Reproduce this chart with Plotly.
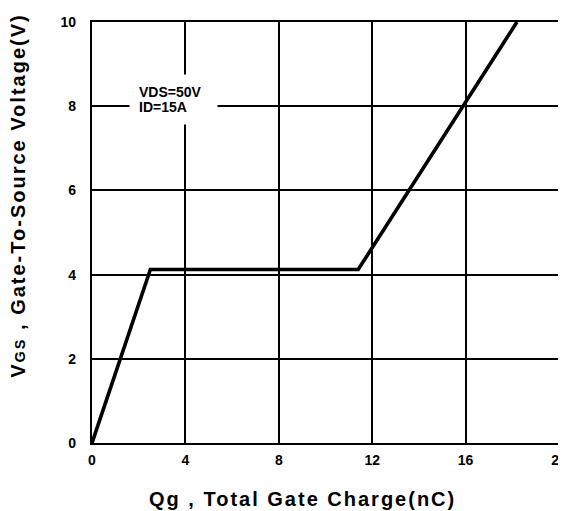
import plotly.graph_objects as go

qg = [0, 2.5, 11.4, 18.2]
vgs = [0, 4.12, 4.12, 10]
x_ticks = [0, 4, 8, 12, 16, 20]
y_ticks = [0, 2, 4, 6, 8, 10]
note_lines = ["VDS=50V", "ID=15A"]

FONT = "Liberation Sans, Arial, sans-serif"

fig = go.Figure()
fig.add_trace(go.Scatter(x=qg, y=vgs, mode="lines",
                         line=dict(color="black", width=3.6), showlegend=False))

axis_common = dict(showgrid=True, gridcolor="black", gridwidth=1.8,
                   showline=True, linecolor="black", linewidth=2.2, mirror=True,
                   zeroline=False, ticks="", automargin=False, ticklabeloverflow="allow",
                   tickfont=dict(family=FONT, size=14, color="black", weight="bold"))

fig.update_xaxes(range=[0, 20], tickvals=x_ticks, ticktext=[str(v) for v in x_ticks],
                 ticklabelstandoff=3, **axis_common)
fig.update_yaxes(range=[0, 10], tickvals=y_ticks, ticktext=[str(v) for v in y_ticks],
                 ticklabelstandoff=11, **axis_common)

# axis titles (offset from plot centre as in the original)
fig.add_annotation(text="<span style='letter-spacing:2px'><b>Qg , Total Gate Charge(nC)</b></span>",
                   xref="paper", yref="paper",
                   x=0.45, y=-0.134, xanchor="center", yanchor="middle", showarrow=False,
                   font=dict(family=FONT, size=20, color="black"))
fig.add_annotation(text="<span style='letter-spacing:2px'><b>V<span style='font-size:14.5px'>GS</span> , Gate-To-Source Voltage(V)</b></span>",
                   xref="paper", yref="paper", x=-0.1586, y=0.587, textangle=-90,
                   xanchor="center", yanchor="middle", showarrow=False,
                   font=dict(family=FONT, size=20, color="black"))

# condition note: white box plus two text lines
fig.add_annotation(x=3.49, y=8.16, xref="x", yref="y", text=" ", showarrow=False,
                   bgcolor="white", width=87, height=49, borderpad=0)
fig.add_annotation(x=1.97, y=8.33, xref="x", yref="y", text="<b>" + note_lines[0] + "</b>",
                   showarrow=False, xanchor="left", yanchor="middle", borderpad=0,
                   font=dict(family=FONT, size=14, color="black"))
fig.add_annotation(x=1.97, y=7.98, xref="x", yref="y", text="<b>" + note_lines[1] + "</b>",
                   showarrow=False, xanchor="left", yanchor="middle", borderpad=0,
                   font=dict(family=FONT, size=14, color="black"))

fig.update_layout(width=566, height=511, plot_bgcolor="white", paper_bgcolor="white",
                  margin=dict(l=84, r=15.3, t=14, b=75.7))
fig.write_html("out.html")
